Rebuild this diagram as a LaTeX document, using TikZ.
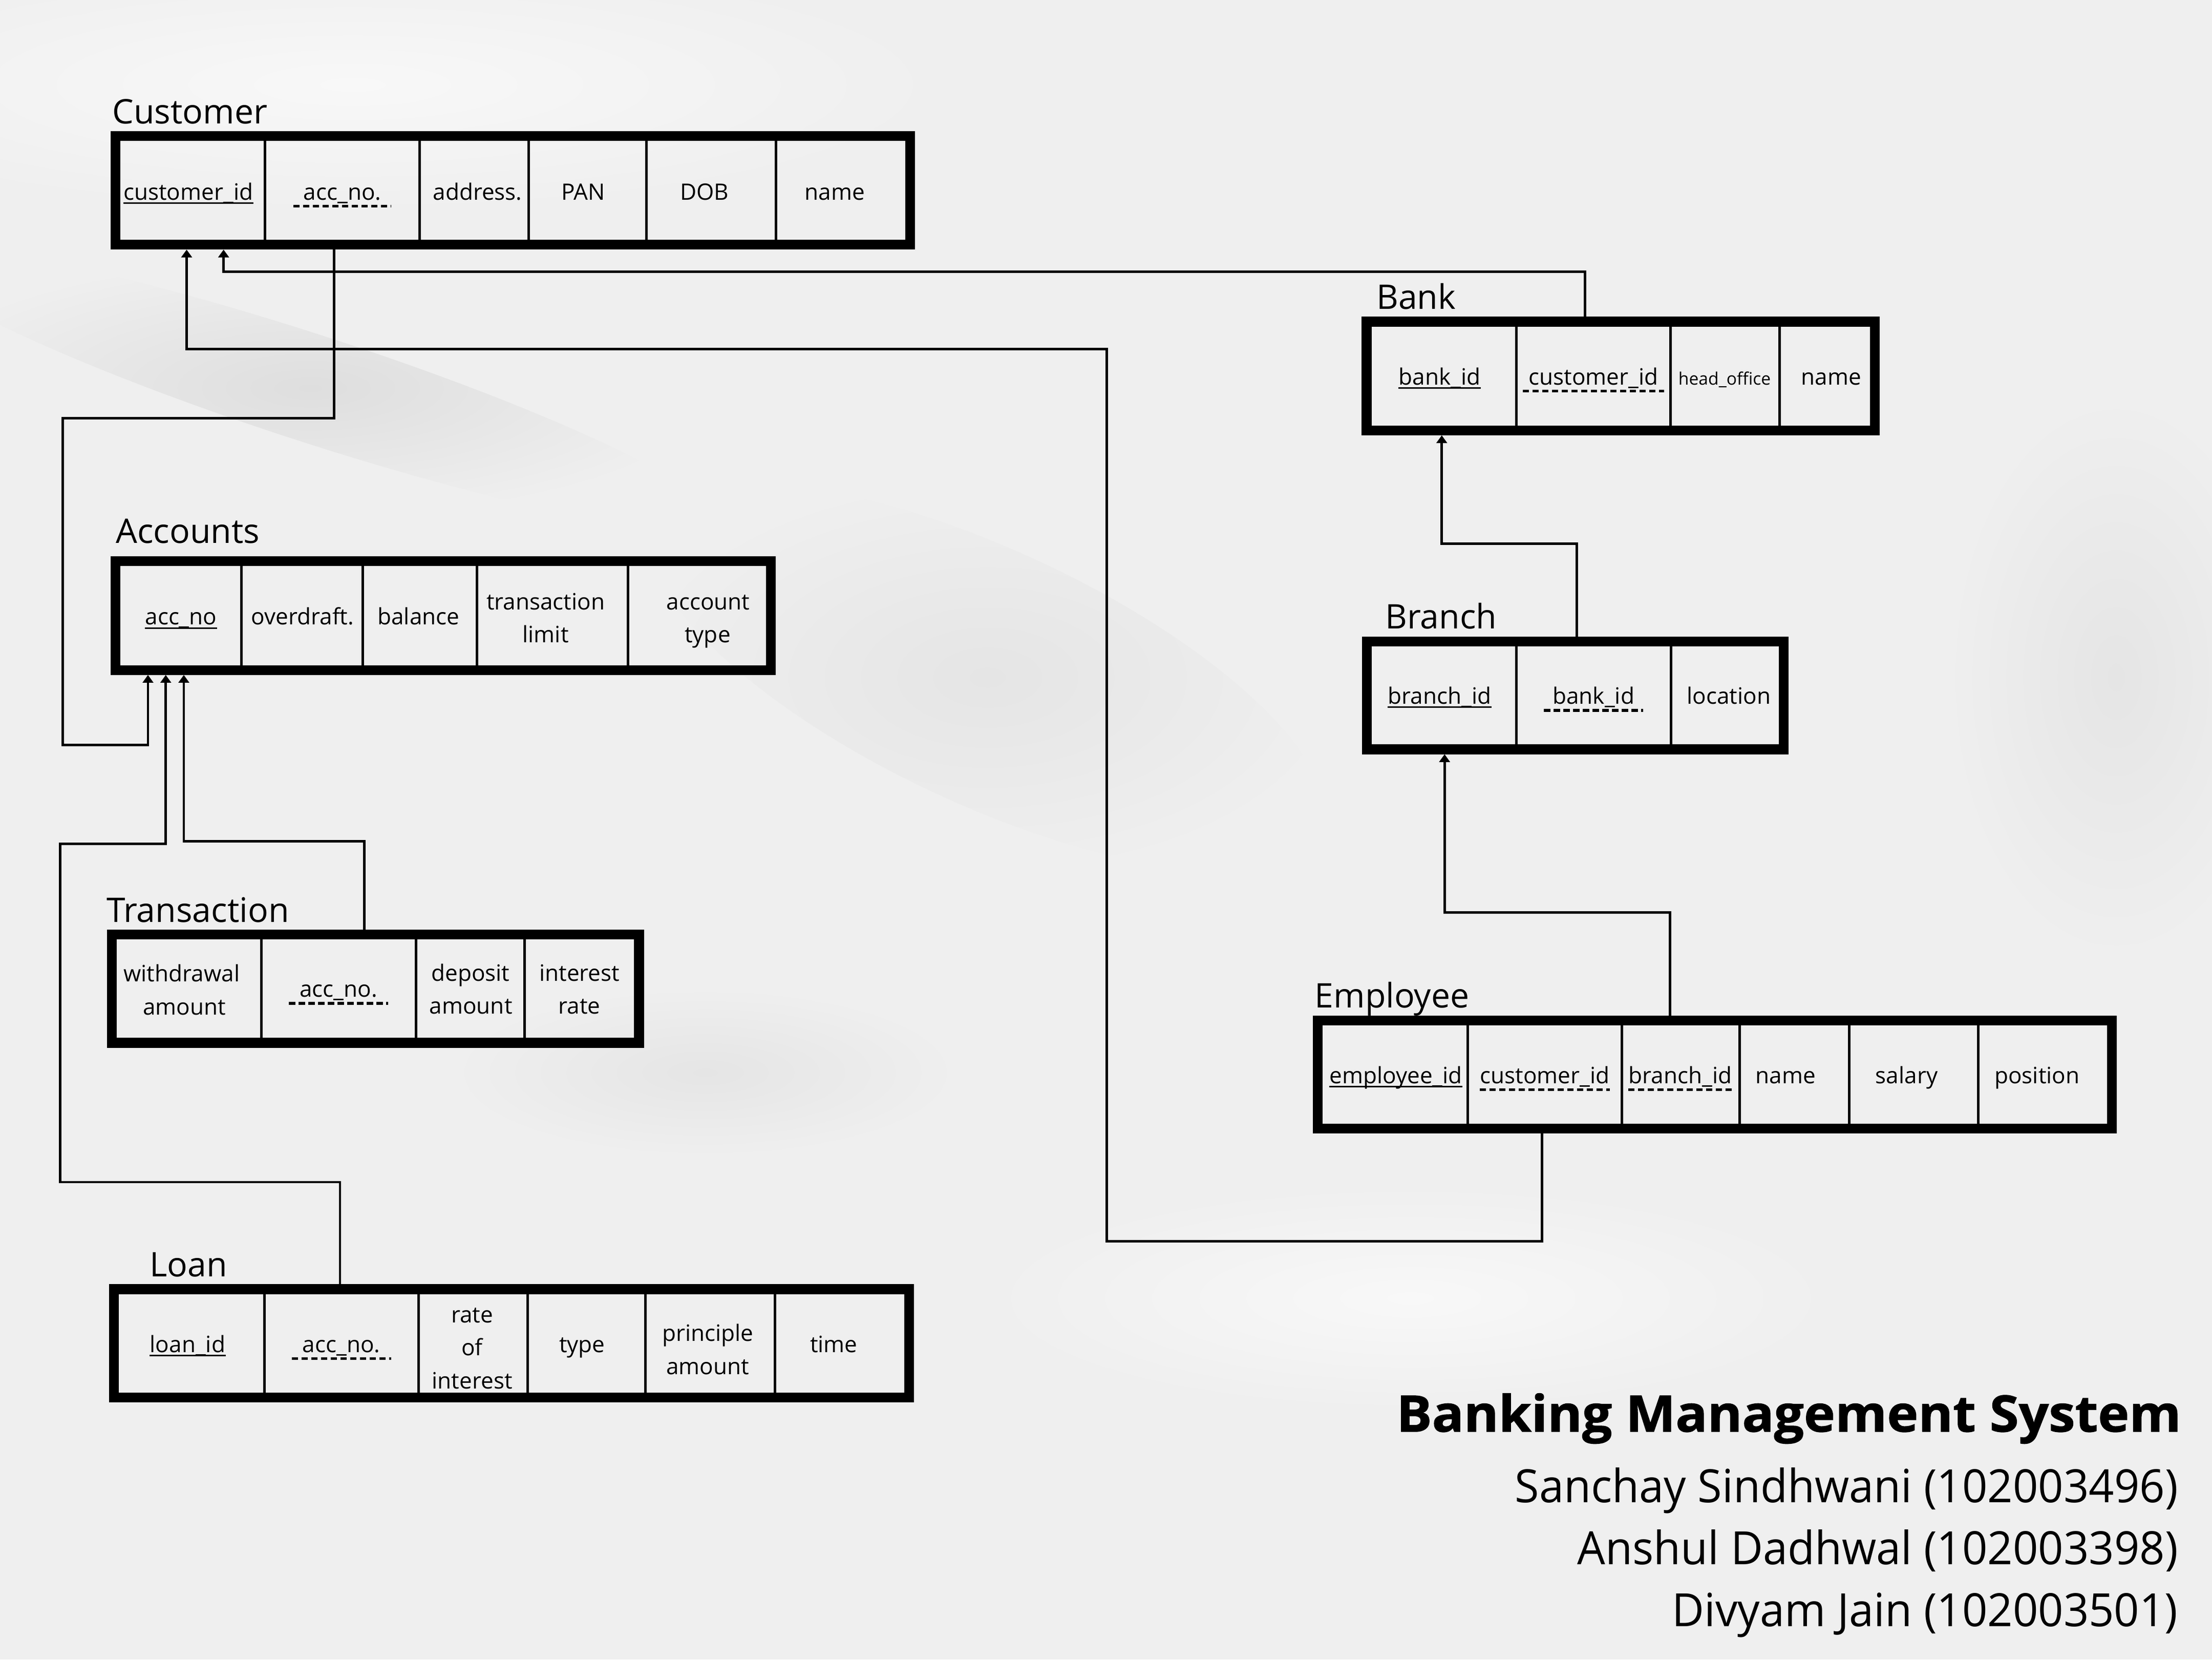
\documentclass[tikz,border=0pt]{standalone}
\usepackage{fontspec}
\setmainfont{Open Sans}
\newfontfamily\titlefont{Open Sans}[FakeStretch=1.049, BoldFeatures={FakeBold=1.2}]
\newfontfamily\authfont{Open Sans}[FakeStretch=0.966]
\usetikzlibrary{arrows.meta}
\definecolor{bg}{RGB}{239,239,239}
\definecolor{bgdark}{RGB}{222,222,222}
\definecolor{bgmid}{RGB}{229,229,229}
\definecolor{bglight}{RGB}{248,248,248}
\tikzset{
  tbl/.style={draw=black, line width=7pt, rectangle, inner sep=0pt},
  div/.style={line width=1.8pt},
  ttl/.style={anchor=base west, inner sep=0pt, font=\fontsize{24}{28}\selectfont},
  attr/.style={anchor=base, inner sep=0pt, font=\fontsize{16}{19}\selectfont},
  smallattr/.style={anchor=base, inner sep=0pt, font=\fontsize{12.2}{14}\selectfont},
  link/.style={line width=1.8pt, line join=miter},
  arr/.style={link, -{Triangle[width=7.5pt,length=5.5pt]}},
  pkl/.style={line width=1.1pt},
  fkl/.style={line width=2pt, dash pattern=on 4.5pt off 2.4pt},
  author/.style={anchor=base east, inner sep=0pt, font=\authfont\fontsize{32.5}{36}\selectfont},
}
\newcommand\pkline[1]{\draw[pkl] ([yshift=-2.2pt]#1.base west) -- ([yshift=-2.2pt]#1.base east);}
\newcommand\fkline[2]{\draw[fkl] ([shift={(-#2pt,-4.4pt)}]#1.base west) -- ([shift={(#2pt,-4.4pt)}]#1.base east);}
\begin{document}
\begin{tikzpicture}[x=1pt,y=-1pt]
\useasboundingbox (0,0) rectangle (1568,1176);
\fill[bg] (0,0) rectangle (1568,1176);
% soft marble texture
\shade[inner color=bglight, outer color=bg] (250,60) ellipse [x radius=420, y radius=90];
\shade[inner color=bgdark, outer color=bg, rotate around={-18:(220,275)}] (220,275) ellipse [x radius=300, y radius=38];
\shade[inner color=bgmid, outer color=bg, rotate around={-25:(700,480)}] (700,480) ellipse [x radius=260, y radius=90];
\shade[inner color=bgmid, outer color=bg] (1500,480) ellipse [x radius=120, y radius=200];
\shade[inner color=bgmid, outer color=bg] (500,760) ellipse [x radius=180, y radius=60];
\shade[inner color=bglight, outer color=bg] (1000,920) ellipse [x radius=300, y radius=80];

% ---------- tables ----------
\node[tbl, minimum width=563.3pt, minimum height=77.1pt] (cust) at (363.55,134.85) {};
\node[tbl, minimum width=464.5pt, minimum height=77.1pt] (acc) at (314.15,436.25) {};
\node[tbl, minimum width=373.6pt, minimum height=76.8pt] (tra) at (266.2,700.6) {};
\node[tbl, minimum width=563.7pt, minimum height=76.8pt] (loan) at (362.65,952) {};
\node[tbl, minimum width=360.3pt, minimum height=77.1pt] (bank) at (1148.85,266.45) {};
\node[tbl, minimum width=295.4pt, minimum height=76.4pt] (branch) at (1116.6,492.8) {};
\node[tbl, minimum width=562.7pt, minimum height=76.7pt] (emp) at (1215.55,761.55) {};

% dividers
\foreach \x in {187.8,297.3,374.6,458.2,550} \draw[div] (\x,99.8) -- (\x,169.9);
\foreach \x in {171.3,257.2,338,445} \draw[div] (\x,401.2) -- (\x,471.3);
\foreach \x in {185.3,294.8,372} \draw[div] (\x,665.7) -- (\x,735.5);
\foreach \x in {187.4,296.8,373.9,457.4,549.2} \draw[div] (\x,917.1) -- (\x,986.9);
\foreach \x in {1074.8,1184,1261.4} \draw[div] (\x,231.4) -- (\x,301.5);
\foreach \x in {1075,1184.4} \draw[div] (\x,458.1) -- (\x,527.5);
\foreach \x in {1040.4,1149.7,1233,1310.7,1402.3} \draw[div] (\x,726.7) -- (\x,796.4);

% titles
\node[ttl] (t-cust) at (79.5,87.5) {Customer};
\node[ttl] (t-acc) at (82,384.8) {Accounts};
\node[ttl] (t-tra) at (75.3,653.4) {Transaction};
\node[ttl] (t-loan) at (105.8,904.7) {Loan};
\node[ttl] (t-bank) at (975.5,219) {Bank};
\node[ttl] (t-branch) at (981.7,445.7) {Branch};
\node[ttl] (t-emp) at (931.8,714.1) {Employee};

% Customer attributes
\node[attr] (cu-a1) at (133.5,141.6) {customer\_id}; \pkline{cu-a1}
\node[attr] (cu-a2) at (242.7,141.6) {acc\_no.}; \fkline{cu-a2}{7}
\node[attr] (cu-a3) at (338.5,141.6) {address.};
\node[attr] (cu-a4) at (413.5,141.6) {PAN};
\node[attr] (cu-a5) at (499.4,141.6) {DOB};
\node[attr] (cu-a6) at (591.8,141.6) {name};

% Accounts attributes
\node[attr] (ac-a1) at (128.3,442.8) {acc\_no}; \pkline{ac-a1}
\node[attr] (ac-a2) at (214.5,442.8) {overdraft.};
\node[attr] (ac-a3) at (296.7,442.8) {balance};
\node[attr] (ac-a4) at (386.8,432) {transaction};
\node[attr] (ac-a4b) at (386.8,455.2) {limit};
\node[attr] (ac-a5) at (502,432) {account};
\node[attr] (ac-a5b) at (501.6,455.2) {type};

% Transaction attributes
\node[attr] (tr-a1) at (128.8,695.7) {withdrawal};
\node[attr] (tr-a1b) at (130.8,719.3) {amount};
\node[attr] (tr-a2) at (240,706.6) {acc\_no.}; \fkline{tr-a2}{7.5}
\node[attr] (tr-a3) at (333.5,695.4) {deposit};
\node[attr] (tr-a3b) at (333.8,718.6) {amount};
\node[attr] (tr-a4) at (410.8,695.4) {interest};
\node[attr] (tr-a4b) at (410.7,718.6) {rate};

% Loan attributes
\node[attr] (lo-a1) at (133,958.3) {loan\_id}; \pkline{lo-a1}
\node[attr] (lo-a2) at (242,958.3) {acc\_no.}; \fkline{lo-a2}{7.5}
\node[attr] (lo-a3) at (334.7,937.2) {rate};
\node[attr] (lo-a3b) at (334.7,960.7) {of};
\node[attr] (lo-a3c) at (334.7,984.3) {interest};
\node[attr] (lo-a4) at (412.6,958.3) {type};
\node[attr] (lo-a5) at (501.7,950.4) {principle};
\node[attr] (lo-a5b) at (501.7,974) {amount};
\node[attr] (lo-a6) at (591,958.3) {time};

% Bank attributes
\node[attr] (bk-a1) at (1020.5,272.8) {bank\_id}; \pkline{bk-a1}
\node[attr] (bk-a2) at (1129.5,272.8) {customer\_id}; \fkline{bk-a2}{4}
\node[smallattr] (bk-a3) at (1222.5,272.8) {head\_office};
\node[attr] (bk-a4) at (1298,272.8) {name};

% Branch attributes
\node[attr] (br-a1) at (1020.5,499) {branch\_id}; \pkline{br-a1}
\node[attr] (br-a2) at (1129.6,499) {bank\_id}; \fkline{br-a2}{6}
\node[attr] (br-a3) at (1225.5,499) {location};

% Employee attributes
\node[attr] (em-a1) at (989.5,767.7) {employee\_id}; \pkline{em-a1}
\node[attr] (em-a2) at (1095,767.7) {customer\_id}; \fkline{em-a2}{0}
\node[attr] (em-a3) at (1191,767.7) {branch\_id}; \fkline{em-a3}{0}
\node[attr] (em-a4) at (1265.8,767.7) {name};
\node[attr] (em-a5) at (1351.5,767.7) {salary};
\node[attr] (em-a6) at (1444,767.7) {position};

% ---------- connector end points ----------
\coordinate (cu1) at (cust.south -| 132.3,0);
\coordinate (cu2) at (cust.south -| 158.5,0);
\coordinate (cu3) at (cust.south -| 237,0);
\coordinate (ac1) at (acc.south -| 104.9,0);
\coordinate (ac2) at (acc.south -| 117.5,0);
\coordinate (ac3) at (acc.south -| 130.3,0);
\coordinate (tr1) at (tra.north -| 258.3,0);
\coordinate (lo1) at (loan.north -| 241,0);
\coordinate (bk1) at (bank.north -| 1123.4,0);
\coordinate (bk2) at (bank.south -| 1022,0);
\coordinate (br1) at (branch.north -| 1117.6,0);
\coordinate (br2) at (branch.south -| 1024,0);
\coordinate (em1) at (emp.north -| 1183.7,0);
\coordinate (em2) at (emp.south -| 1093,0);

% ---------- connectors ----------
\draw[arr] (bk1) |- (158.5,192.4) -- (cu2);
\draw[arr] (em2) |- (784.7,879.5) |- (132.3,247.2) -- (cu1);
\draw[arr] (cu3) |- (44.5,296.2) |- (104.9,527.8) -- (ac1);
\draw[arr] (lo1) |- (42.6,837.7) |- (117.5,597.9) -- (ac2);
\draw[arr] (tr1) |- (130.3,596) -- (ac3);
\draw[arr] (br1) |- (1022,385.3) -- (bk2);
\draw[arr] (em1) |- (1024,646.7) -- (br2);

% ---------- footer ----------
\node[anchor=base east, inner sep=0pt, font=\titlefont\fontsize{35.7}{40}\selectfont\bfseries] (ftitle) at (1546.3,1014.5) {Banking Management System};
\node[author] (auth1) at (1544,1064.6) {Sanchay Sindhwani (102003496)};
\node[author] (auth2) at (1544,1108.5) {Anshul Dadhwal (102003398)};
\node[author] (auth3) at (1544,1152.5) {Divyam Jain (102003501)};
\end{tikzpicture}
\end{document}
